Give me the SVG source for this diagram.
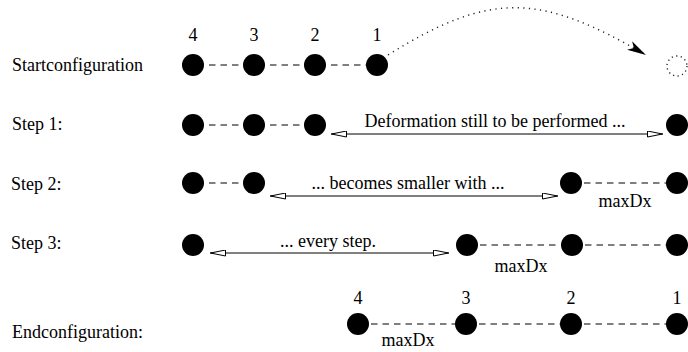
<svg xmlns="http://www.w3.org/2000/svg" width="688" height="352" viewBox="0 0 688 352">
  <style>
    text { font-family: "Liberation Serif", "Times New Roman", serif; font-size: 18px; fill: #000; }
    .mid { text-anchor: middle; }
    .ball { fill: #000; }
    .link { stroke: #000; stroke-width: 1; stroke-dasharray: 6.5 5; fill: none; }
    .span { stroke: #000; stroke-width: 1; fill: none; marker-start: url(#openL); marker-end: url(#openR); }
    .move { stroke: #222; stroke-width: 1.4; stroke-dasharray: 1.2 4.4; fill: none; }
    .ghost { fill: none; stroke: #222; stroke-width: 1.4; stroke-dasharray: 1.2 3.4; }
  </style>
  <defs>
    <marker id="openR" viewBox="0 0 16 7" refX="16" refY="3.5" markerWidth="16" markerHeight="7" markerUnits="userSpaceOnUse" orient="auto">
      <path d="M0.5,0.5 L15.5,3.5 L0.5,6.5 Z" fill="#fff" stroke="#000" stroke-width="1"/>
    </marker>
    <marker id="openL" viewBox="0 0 16 7" refX="0" refY="3.5" markerWidth="16" markerHeight="7" markerUnits="userSpaceOnUse" orient="auto">
      <path d="M15.5,0.5 L0.5,3.5 L15.5,6.5 Z" fill="#fff" stroke="#000" stroke-width="1"/>
    </marker>
    <marker id="solid" viewBox="0 0 20 10" refX="19" refY="5" markerWidth="20" markerHeight="10" markerUnits="userSpaceOnUse" orient="auto">
      <path d="M0,0 L19,5 L0,10 L5,5 Z" fill="#000"/>
    </marker>
  </defs>

  <!-- row captions -->
  <g id="captions">
    <text x="12" y="71">Startconfiguration</text>
    <text x="12" y="130">Step 1:</text>
    <text x="11" y="190">Step 2:</text>
    <text x="11" y="249">Step 3:</text>
    <text x="12" y="338">Endconfiguration:</text>
  </g>

  <!-- connectors -->
  <g id="connectors">
    <!-- start row -->
    <line class="link" x1="209" y1="65" x2="243" y2="65"/>
    <line class="link" x1="270" y1="65" x2="304" y2="65"/>
    <line class="link" x1="331" y1="65" x2="366" y2="65"/>
    <path class="move" d="M388,55 C492,-10 541,-6 646,55" marker-end="url(#solid)"/>
    <!-- step 1 -->
    <line class="link" x1="209" y1="125" x2="243" y2="125"/>
    <line class="link" x1="270" y1="125" x2="304" y2="125"/>
    <line class="span" x1="331" y1="134" x2="663" y2="134"/>
    <!-- step 2 -->
    <line class="link" x1="209" y1="183" x2="243" y2="183"/>
    <line class="span" x1="270" y1="196" x2="558" y2="196"/>
    <line class="link" x1="584" y1="183" x2="666" y2="183"/>
    <!-- step 3 -->
    <line class="span" x1="210" y1="253" x2="449" y2="253"/>
    <line class="link" x1="480" y1="245" x2="560" y2="245"/>
    <line class="link" x1="585" y1="245" x2="666" y2="245"/>
    <!-- end row -->
    <line class="link" x1="371" y1="324" x2="455" y2="324"/>
    <line class="link" x1="479" y1="324" x2="560" y2="324"/>
    <line class="link" x1="584" y1="324" x2="666" y2="324"/>
  </g>

  <!-- start configuration -->
  <g id="start-4"><circle class="ball" cx="193" cy="65" r="11"/><text class="mid" x="193" y="41">4</text></g>
  <g id="start-3"><circle class="ball" cx="254" cy="65" r="11"/><text class="mid" x="254" y="41">3</text></g>
  <g id="start-2"><circle class="ball" cx="315" cy="65" r="11"/><text class="mid" x="315" y="41">2</text></g>
  <g id="start-1"><circle class="ball" cx="377" cy="65" r="11"/><text class="mid" x="377" y="41">1</text></g>
  <g id="start-target"><circle class="ghost" cx="677" cy="66" r="10"/></g>

  <!-- step 1 -->
  <g id="s1-4"><circle class="ball" cx="193" cy="125" r="11"/></g>
  <g id="s1-3"><circle class="ball" cx="254" cy="125" r="11"/></g>
  <g id="s1-2"><circle class="ball" cx="315" cy="125" r="11"/></g>
  <g id="s1-1"><circle class="ball" cx="677" cy="125" r="11"/></g>
  <g id="s1-label"><text class="mid" x="495" y="127">Deformation still to be performed ...</text></g>

  <!-- step 2 -->
  <g id="s2-4"><circle class="ball" cx="193" cy="183" r="11"/></g>
  <g id="s2-3"><circle class="ball" cx="254" cy="183" r="11"/></g>
  <g id="s2-2"><circle class="ball" cx="571" cy="183" r="11"/></g>
  <g id="s2-1"><circle class="ball" cx="677" cy="183" r="11"/></g>
  <g id="s2-label"><text class="mid" x="408" y="189">... becomes smaller with ...</text></g>
  <g id="s2-dx"><text class="mid" x="625" y="207">maxDx</text></g>

  <!-- step 3 -->
  <g id="s3-4"><circle class="ball" cx="193" cy="245" r="11"/></g>
  <g id="s3-3"><circle class="ball" cx="467" cy="245" r="11"/></g>
  <g id="s3-2"><circle class="ball" cx="572" cy="245" r="11"/></g>
  <g id="s3-1"><circle class="ball" cx="677" cy="245" r="11"/></g>
  <g id="s3-label"><text class="mid" x="328" y="247">... every step.</text></g>
  <g id="s3-dx"><text class="mid" x="521" y="272">maxDx</text></g>

  <!-- end configuration -->
  <g id="end-4"><circle class="ball" cx="358" cy="324" r="11"/><text class="mid" x="358" y="304">4</text></g>
  <g id="end-3"><circle class="ball" cx="466" cy="324" r="11"/><text class="mid" x="466" y="304">3</text></g>
  <g id="end-2"><circle class="ball" cx="571" cy="324" r="11"/><text class="mid" x="571" y="304">2</text></g>
  <g id="end-1"><circle class="ball" cx="677" cy="324" r="11"/><text class="mid" x="677" y="304">1</text></g>
  <g id="end-dx"><text class="mid" x="408" y="346">maxDx</text></g>
</svg>
